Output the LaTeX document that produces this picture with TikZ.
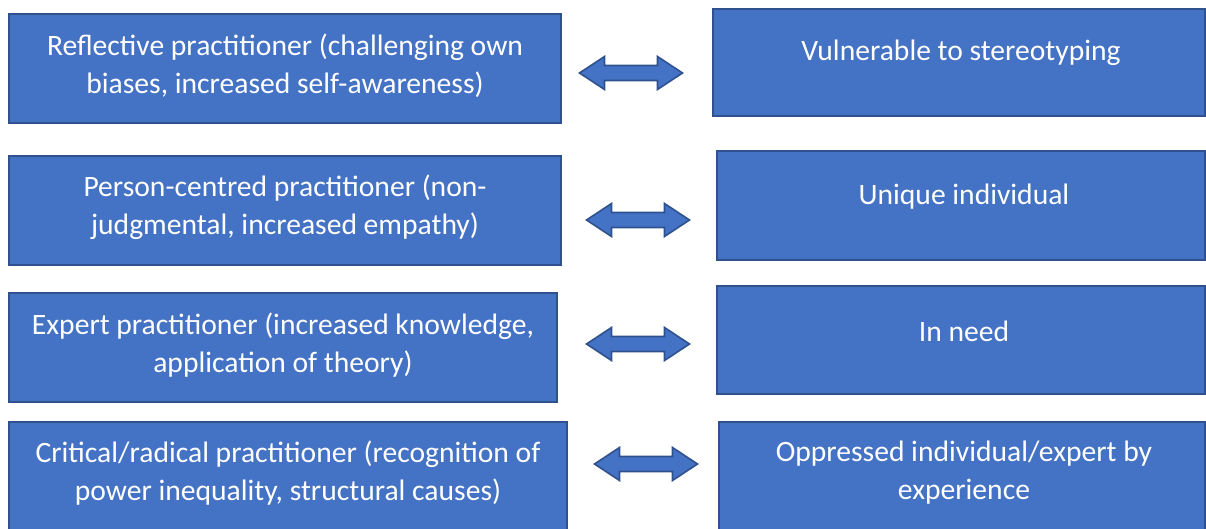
\documentclass[tikz,border=0pt]{standalone}
\usepackage{fontspec}
\setmainfont{Carlito}
\usepackage{tikz}

\definecolor{boxfill}{HTML}{4472C4}
\definecolor{boxline}{HTML}{2F528F}

\tikzset{
  box/.style={draw=boxline, fill=boxfill, line width=0.8pt, inner sep=0pt, outer sep=0pt},
  boxtext/.style={text=white, align=center, font=\fontsize{14.8}{19}\selectfont},
  twoway/.pic={
    \draw[boxline, fill=boxfill, line width=0.8pt, line join=miter]
      (-51.5,0) -- (-26.5,-16.5) -- (-26.5,-7.5) -- (26.5,-7.5) -- (26.5,-16.5)
      -- (51.5,0) -- (26.5,16.5) -- (26.5,7.5) -- (-26.5,7.5) -- (-26.5,16.5) -- cycle;
  }
}

\begin{document}
\begin{tikzpicture}[x=0.5pt,y=-0.5pt]
   \useasboundingbox (0,0) rectangle (1206,529);

   % practitioner side
   \node[box, minimum width=276pt, minimum height=54.5pt] (refl) at (285,68.5) {};
   \node[box, minimum width=276pt, minimum height=54.5pt] (pers) at (285,210.5) {};
   \node[box, minimum width=274pt, minimum height=54.5pt] (expt) at (283,347.5) {};
   \node[box, minimum width=279pt, minimum height=54.5pt] (crit) at (288,476.5) {};

   \node[boxtext] (refltext) at (285,66) {Reflective practitioner (challenging own\\ biases, increased self-awareness)};
   \node[boxtext] (perstext) at (285,207.5) {Person-centred practitioner (non-\\ judgmental, increased empathy)};
   \node[boxtext] (expttext) at (283,345) {Expert practitioner (increased knowledge,\\ application of theory)};
   \node[boxtext] (crittext) at (288,473) {Critical/radical practitioner (recognition of\\ power inequality, structural causes)};

   % service user side
   \node[box, minimum width=246pt, minimum height=53.5pt] (vuln) at (959,62.5) {};
   \node[box, minimum width=244pt, minimum height=54.5pt] (uniq) at (961,205.5) {};
   \node[box, minimum width=244pt, minimum height=54pt] (need) at (961,340) {};
   \node[box, minimum width=243pt, minimum height=54.5pt] (oppr) at (962,476.5) {};

   \node[boxtext] (vulntext) at (961,53) {Vulnerable to stereotyping};
   \node[boxtext] (uniqtext) at (964,197) {Unique individual};
   \node[boxtext] (needtext) at (964,331) {In need};
   \node[boxtext] (opprtext) at (964,473) {Oppressed individual/expert by\\ experience};

   % two-way arrows
   \pic (arrA) at (631,73) {twoway};
   \pic (arrB) at (638,220) {twoway};
   \pic (arrC) at (638,344) {twoway};
   \pic (arrD) at (646,464) {twoway};
\end{tikzpicture}
\end{document}
